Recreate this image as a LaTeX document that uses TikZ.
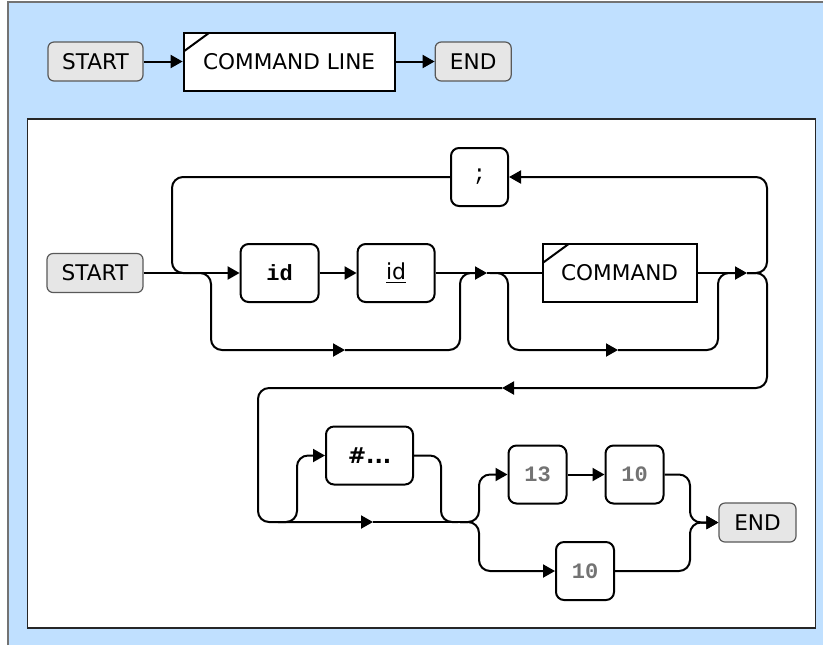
\documentclass[tikz,border=0pt]{standalone}
\usepackage{fontspec}
\setmainfont{DejaVu Sans}
\newfontfamily\monofont{Liberation Mono}
\usetikzlibrary{arrows.meta,positioning}
\definecolor{panelblue}{RGB}{192,224,255}
\definecolor{termfill}{RGB}{230,230,230}
\tikzset{
  term/.style={rectangle, rounded corners=3pt, draw=black!65, fill=termfill, line width=0.6pt,
               inner sep=0pt, minimum width=47.5pt, minimum height=19.5pt,
               font=\fontsize{10.8pt}{12pt}\selectfont},
  box/.style={rectangle, rounded corners=4pt, draw, fill=white, line width=1pt,
              inner sep=0pt, minimum height=29pt, font=\fontsize{11pt}{13pt}\selectfont},
  rulebox/.style={rectangle, draw, fill=white, line width=1pt, inner sep=0pt,
                  minimum height=29pt, font=\fontsize{10.8pt}{12pt}\selectfont,
                  path picture={\draw[line width=1pt]
                    ([yshift=-9.5pt]path picture bounding box.north west) --
                    ([xshift=13pt]path picture bounding box.north west);}},
  num/.style={minimum width=29pt, text=black!55, font=\fontsize{11pt}{13pt}\monofont\bfseries},
  rail/.style={line width=1pt, rounded corners=5.5pt},
}

\begin{document}
\begin{tikzpicture}[x=0.5pt, y=-0.5pt, >={Triangle[length=6pt,width=6.5pt]}]
  \useasboundingbox (0,0) rectangle (823,645);

  % ----- Panels -----
  \fill[panelblue] (8,2) rectangle (823,645);
  \draw[black!55, line width=1pt] (8,645) -- (8,2) -- (823,2);
  \draw[fill=white, draw=black!85, line width=0.8pt] (27.5,119) rectangle (815.5,628);

  % ----- Top row -----
  \node[term] (start) at (95.5,61.5) {START};
  \node[rulebox, minimum width=105.5pt, right=19.5pt of start] (cmdline) {COMMAND LINE};
  \node[term, minimum width=38pt, right=19.5pt of cmdline] (stop) {END};

  \draw[rail,->] (start) -- (cmdline);
  \draw[rail,->] (cmdline) -- (stop);

  % ----- Command line syntax -----
  \node[term, minimum width=48pt] (rstart) at (95,273) {START};
  \node[box, minimum width=39pt, right=48pt of rstart] (kw) {\monofont\bfseries id};
  \node[box, minimum width=38.5pt, right=18.5pt of kw] (ident) {\underline{id}};
  \node[rulebox, minimum width=77pt, right=53pt of ident] (cmd) {COMMAND};
  \node[box, minimum width=28.5pt] (semi) at (479.5,177) {\monofont ;};

  \node[box, minimum width=43.5pt] (hash) at (369.5,455.5) {\bfseries\#...};
  \node[box, num] (cr) at (537.5,474.5) {13};
  \node[box, num, right=18.5pt of cr] (lf) {10};
  \node[box, num] (lfb) at (585,571) {10};
  \node[term, minimum width=38.5pt] (rend) at (757.5,522.5) {END};

  % junctions
  \coordinate (loopL) at (172,273);
  \coordinate (s0) at (190,273);
  \coordinate (rtop) at (767,177);
  \coordinate (jA) at (487,273);
  \coordinate (jB) at (747,273);
  \coordinate (s1) at (190,273);
  \coordinate (b1L) at (211,350);
  \coordinate (byA) at (345,350);
  \coordinate (b1R) at (460,273);
  \coordinate (m1) at (476,273);
  \coordinate (s2) at (490,273);
  \coordinate (b2L) at (508,350);
  \coordinate (byB) at (618,350);
  \coordinate (b2R) at (718,273);
  \coordinate (m2) at (736,273);
  \coordinate (rdn) at (767,388);
  \coordinate (jC) at (502,388);
  \coordinate (ldn) at (258,522);
  \coordinate (jD) at (373,522);
  \coordinate (s3) at (278,522);
  \coordinate (h1) at (297,455.5);
  \coordinate (h2) at (441,522);
  \coordinate (m3) at (458,522);
  \coordinate (s4) at (460,522);
  \coordinate (f1) at (479,474.5);
  \coordinate (f2) at (479,571);
  \coordinate (g1) at (690,522.5);

  % ----- Main line -----
  \draw[rail,->] (rstart) -- (kw);
  \draw[rail,->] (kw) -- (ident);
  \draw[rail,->] (ident) -- (jA);
  \draw[rail] (jA) -- (cmd);
  \draw[rail,->] (cmd) -- (jB);

  % repeat over ;
  \draw[rail,->] (jB) -| (rtop) -- (semi.east);
  \draw[rail] (semi.west) -| (loopL) -- (s0);

  % bypasses
  \draw[rail,->] (s1) -| (b1L) -- (byA);
  \draw[rail] (byA) -| (b1R) -- (m1);
  \draw[rail,->] (s2) -| (b2L) -- (byB);
  \draw[rail] (byB) -| (b2R) -- (m2);

  % second row
  \draw[rail,->] (jB) -| (rdn) -- (jC);
  \draw[rail,->] (jC) -| (ldn) -- (jD);
  \draw[rail,->] (s3) -| (h1) -- (hash.west);
  \draw[rail] (hash.east) -| (h2) -- (m3);
  \draw[rail] (jD) -- (s4);
  \draw[rail,->] (s4) -| (f1) -- (cr.west);
  \draw[rail,->] (s4) -| (f2) -- (lfb.west);
  \draw[rail,->] (cr) -- (lf);
  \draw[rail,->] (lf.east) -| (g1) -- (rend.west);
  \draw[rail,->] (lfb.east) -| (g1) -- (rend.west);

\end{tikzpicture}
\end{document}
